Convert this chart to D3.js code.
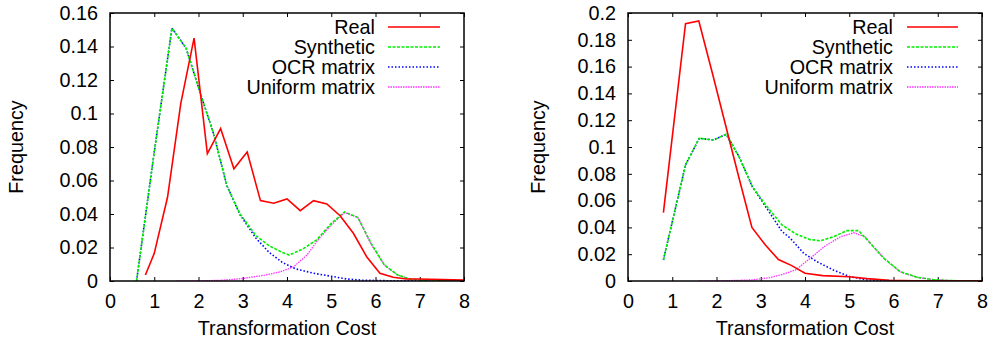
<!DOCTYPE html>
<html>
<head>
<meta charset="utf-8">
<script src="https://cdn.jsdelivr.net/npm/d3@7/dist/d3.min.js"></script>
<style>
  html, body { margin: 0; padding: 0; background: #fff; }
  svg text { font-family: "Liberation Sans", Arial, Helvetica, sans-serif; fill: #000; }
</style>
</head>
<body>
<svg id="chart" width="993" height="342"></svg>
<script>
// ---------- data (left panel) ----------
const leftRealX = [0.8, 1.0, 1.3, 1.6, 1.9, 2.2, 2.5, 2.8, 3.1, 3.4, 3.7, 4.0, 4.3, 4.6, 4.9, 5.2, 5.5, 5.8, 6.1, 6.4, 6.7, 7.0, 7.5, 8.0];
const leftRealY = [0.0036, 0.0165, 0.050, 0.106, 0.145, 0.076, 0.091, 0.067, 0.077, 0.048, 0.0464, 0.049, 0.042, 0.048, 0.046, 0.039, 0.0285, 0.0145, 0.0046, 0.0022, 0.0012, 0.0012, 0.0008, 0.0005];
const leftSynX = [0.6, 1.0, 1.4, 1.72, 2.03, 2.34, 2.64, 2.94, 3.3, 3.6, 3.9, 4.05, 4.35, 4.67, 5.0, 5.3, 5.6, 5.9, 6.2, 6.5, 6.8, 7.2, 8.0];
const leftSynY = [0, 0.077, 0.151, 0.139, 0.113, 0.088, 0.057, 0.040, 0.027, 0.021, 0.017, 0.0155, 0.019, 0.0245, 0.0344, 0.0412, 0.038, 0.0225, 0.0096, 0.0036, 0.001, 0.0003, 0];
const leftOcrX = [0.6, 1.0, 1.4, 1.72, 2.03, 2.34, 2.64, 2.94, 3.3, 3.6, 3.9, 4.2, 4.6, 5.05, 5.35, 5.7, 6.2, 7.0, 8.0];
const leftOcrY = [0, 0.077, 0.151, 0.139, 0.113, 0.088, 0.057, 0.0395, 0.0255, 0.017, 0.011, 0.0072, 0.0046, 0.0026, 0.0012, 0.0005, 0.0002, 0.0001, 0];
const leftUniX = [1.5, 2.0, 2.5, 3.0, 3.5, 3.85, 4.15, 4.45, 4.7, 5.0, 5.3, 5.6, 5.9, 6.2, 6.5, 6.8, 7.2, 8.0];
const leftUniY = [0, 0.0001, 0.0004, 0.0015, 0.0035, 0.0055, 0.0085, 0.0155, 0.0245, 0.0334, 0.0408, 0.038, 0.022, 0.0095, 0.0035, 0.001, 0.0003, 0];
const leftYTicks = [0, 0.02, 0.04, 0.06, 0.08, 0.1, 0.12, 0.14, 0.16];

// ---------- data (right panel) ----------
const rightRealX = [0.8, 1.3, 1.6, 1.9, 2.2, 2.5, 2.8, 3.1, 3.4, 3.7, 4.0, 4.4, 5.0, 5.4, 5.9, 6.5, 8.0];
const rightRealY = [0.051, 0.192, 0.194, 0.156, 0.117, 0.078, 0.040, 0.027, 0.016, 0.0115, 0.0058, 0.004, 0.0032, 0.0018, 0.0006, 0.0002, 0];
const rightSynX = [0.8, 1.3, 1.61, 1.93, 2.22, 2.51, 2.81, 3.14, 3.48, 3.8, 4.1, 4.35, 4.64, 4.95, 5.21, 5.48, 5.78, 6.15, 6.53, 6.9, 7.3, 8.0];
const rightSynY = [0.0157, 0.0866, 0.1065, 0.1052, 0.1095, 0.0928, 0.0704, 0.0555, 0.0418, 0.035, 0.031, 0.030, 0.033, 0.0376, 0.0376, 0.028, 0.017, 0.007, 0.0028, 0.001, 0.0003, 0];
const rightOcrX = [0.8, 1.3, 1.61, 1.93, 2.22, 2.51, 2.81, 3.14, 3.48, 3.67, 3.97, 4.27, 4.64, 5.02, 5.4, 6.0, 7.0, 8.0];
const rightOcrY = [0.0157, 0.0866, 0.1065, 0.1052, 0.1095, 0.0928, 0.0704, 0.054, 0.037, 0.0318, 0.0207, 0.0144, 0.0082, 0.0032, 0.0008, 0.0002, 0.0001, 0];
const rightUniX = [1.6, 2.2, 2.8, 3.2, 3.5, 3.8, 4.1, 4.45, 4.8, 5.1, 5.36, 5.6, 5.8, 6.15, 6.53, 6.9, 7.3, 8.0];
const rightUniY = [0, 0.0002, 0.0008, 0.0025, 0.005, 0.0085, 0.0165, 0.026, 0.033, 0.036, 0.033, 0.0235, 0.0165, 0.0068, 0.0027, 0.001, 0.0003, 0];
const rightYTicks = [0, 0.02, 0.04, 0.06, 0.08, 0.1, 0.12, 0.14, 0.16, 0.18, 0.2];

const xTicks = [0, 1, 2, 3, 4, 5, 6, 7, 8];
const seriesNames = ["Real", "Synthetic", "OCR matrix", "Uniform matrix"];
const xLabel = "Transformation Cost";
const yLabel = "Frequency";

// ---------- styles ----------
const styles = [
  { color: "#ff0000", width: 1.6, dash: null, opacity: 1 },
  { color: "#00ee00", width: 1.6, dash: "3,1.5", opacity: 1 },
  { color: "#0000ff", width: 1.6, dash: "1.5,2", opacity: 1 },
  { color: "#ff00ff", width: 1.3, dash: "1.5,1", opacity: 0.8 }
];

const svg = d3.select("#chart");
const FS = 19.8;

function zip(xs, ys) { return xs.map((x, i) => [x, ys[i]]); }

function panel(cfg) {
  const { left, right, top, bottom, yMax, yTicks, series, idx, legendTextX, legendLineX0, legendLineX1, yLabelX } = cfg;
  const x = d3.scaleLinear().domain([0, 8]).range([left, right]);
  const y = d3.scaleLinear().domain([0, yMax]).range([bottom, top]);
  const g = svg.append("g");
  const clipId = "clip" + idx;
  g.append("clipPath").attr("id", clipId).append("rect")
    .attr("x", left).attr("y", top).attr("width", right - left).attr("height", bottom - top);

  const tl = 4;
  g.append("g").attr("transform", `translate(0,${bottom})`)
    .call(d3.axisBottom(x).tickValues(xTicks).tickSize(-tl).tickFormat(d3.format("d")))
    .call(a => a.select(".domain").remove())
    .call(a => a.selectAll("text").attr("font-size", FS).attr("dy", "0.71em").attr("y", 13))
    .call(a => a.selectAll("line").attr("stroke", "#000"));
  g.append("g").attr("transform", `translate(0,${top})`)
    .call(d3.axisTop(x).tickValues(xTicks).tickSize(-tl).tickFormat(""))
    .call(a => a.select(".domain").remove())
    .call(a => a.selectAll("line").attr("stroke", "#000"));
  g.append("g").attr("transform", `translate(${left},0)`)
    .call(d3.axisLeft(y).tickValues(yTicks).tickSize(-tl).tickFormat(d3.format("~g")))
    .call(a => a.select(".domain").remove())
    .call(a => a.selectAll("text").attr("font-size", FS).attr("x", -12))
    .call(a => a.selectAll("line").attr("stroke", "#000"));
  g.append("g").attr("transform", `translate(${right},0)`)
    .call(d3.axisRight(y).tickValues(yTicks).tickSize(-tl).tickFormat(""))
    .call(a => a.select(".domain").remove())
    .call(a => a.selectAll("line").attr("stroke", "#000"));

  const line = d3.line().x(d => x(d[0])).y(d => y(d[1]));
  [3, 2, 1, 0].forEach(i => {
    const st = styles[i];
    g.append("path").datum(series[i])
      .attr("clip-path", `url(#${clipId})`)
      .attr("fill", "none")
      .attr("stroke", st.color)
      .attr("stroke-width", st.width)
      .attr("stroke-opacity", st.opacity)
      .attr("stroke-dasharray", st.dash)
      .attr("d", line);
  });

  g.append("rect").attr("x", left).attr("y", top)
    .attr("width", right - left).attr("height", bottom - top)
    .attr("fill", "none").attr("stroke", "#000").attr("stroke-width", 1.5);

  const rows = [27, 47, 67, 87];
  seriesNames.forEach((name, i) => {
    const st = styles[i];
    g.append("text").attr("x", legendTextX).attr("y", rows[i])
      .attr("dy", "0.35em").attr("text-anchor", "end").attr("font-size", FS).text(name);
    g.append("line").attr("x1", legendLineX0).attr("x2", legendLineX1)
      .attr("y1", rows[i]).attr("y2", rows[i])
      .attr("stroke", st.color).attr("stroke-width", st.width)
      .attr("stroke-opacity", st.opacity)
      .attr("stroke-dasharray", st.dash);
  });

  g.append("text").attr("x", (left + right) / 2).attr("y", 335)
    .attr("text-anchor", "middle").attr("font-size", FS).text(xLabel);
  g.append("text").attr("transform", `translate(${yLabelX},${(top + bottom) / 2}) rotate(-90)`)
    .attr("text-anchor", "middle").attr("font-size", FS).text(yLabel);
}

panel({
  idx: 0, left: 110, right: 464, top: 13, bottom: 281, yMax: 0.16, yTicks: leftYTicks,
  series: [zip(leftRealX, leftRealY), zip(leftSynX, leftSynY), zip(leftOcrX, leftOcrY), zip(leftUniX, leftUniY)],
  legendTextX: 375, legendLineX0: 388, legendLineX1: 440, yLabelX: 23
});
panel({
  idx: 1, left: 628, right: 982, top: 13, bottom: 281, yMax: 0.2, yTicks: rightYTicks,
  series: [zip(rightRealX, rightRealY), zip(rightSynX, rightSynY), zip(rightOcrX, rightOcrY), zip(rightUniX, rightUniY)],
  legendTextX: 893, legendLineX0: 907, legendLineX1: 958, yLabelX: 545
});
</script>
</body>
</html>
